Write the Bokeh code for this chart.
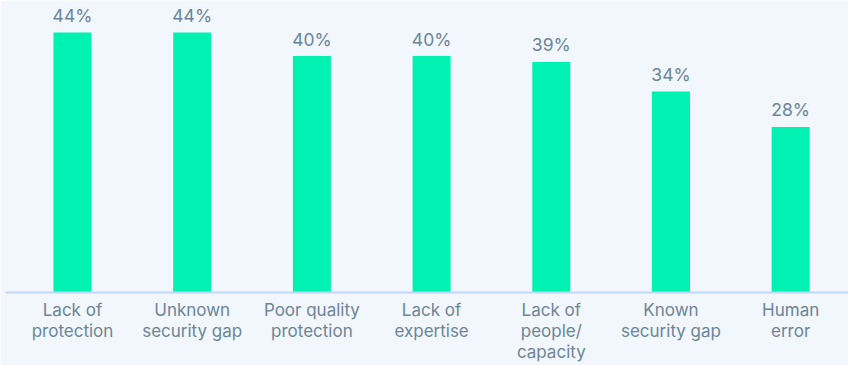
from bokeh.plotting import figure
from bokeh.models import ColumnDataSource, Range1d, FixedTicker, LinearAxis
from bokeh.embed import file_html
from bokeh.resources import INLINE
from bokeh.core.properties import value

categories = ["Lack of\nprotection", "Unknown\nsecurity gap", "Poor quality\nprotection",
              "Lack of\nexpertise", "Lack of\npeople/\ncapacity", "Known\nsecurity gap", "Human\nerror"]
percentages = [44, 44, 40, 40, 39, 34, 28]
value_labels = ["44%", "44%", "40%", "40%", "39%", "34%", "28%"]

xs = list(range(len(categories)))
src = ColumnDataSource(dict(x=xs, top=percentages, label=value_labels))

BG = "#f1f7fd"
TXT = "#6c8599"

p = figure(width=848, height=365, output_backend="svg", toolbar_location=None,
           x_range=Range1d(-0.5597, 6.483), y_range=Range1d(0, 49.4),
           min_border_left=5, min_border_right=0, min_border_top=0, min_border_bottom=73,
           x_axis_location=None, y_axis_location=None)
p.background_fill_color = BG
p.border_fill_color = BG
p.outline_line_color = None
p.xgrid.visible = False
p.ygrid.visible = False

p.vbar(x="x", top="top", bottom=0, width=0.3175, source=src,
       fill_color="#00f2b2", line_color=None)

p.text(x="x", y="top", text="label", source=src, text_align="center",
       text_baseline="alphabetic", y_offset=-17, text_font=value("Inter"),
       text_font_size="17.5px", text_color=TXT)

ax = LinearAxis(ticker=FixedTicker(ticks=xs),
                major_label_overrides={i: c for i, c in enumerate(categories)})
ax.axis_line_color = "#c2d7f6"
ax.axis_line_width = 2
ax.major_tick_line_color = None
ax.minor_tick_line_color = None
ax.major_tick_out = 0
ax.major_tick_in = 0
ax.major_label_standoff = 7
ax.major_label_text_font = "Inter"
ax.major_label_text_font_size = "17px"
ax.major_label_text_color = TXT
ax.major_label_text_line_height = 1.05
p.add_layout(ax, "below")

open("out.html", "w").write(file_html(p, INLINE))
